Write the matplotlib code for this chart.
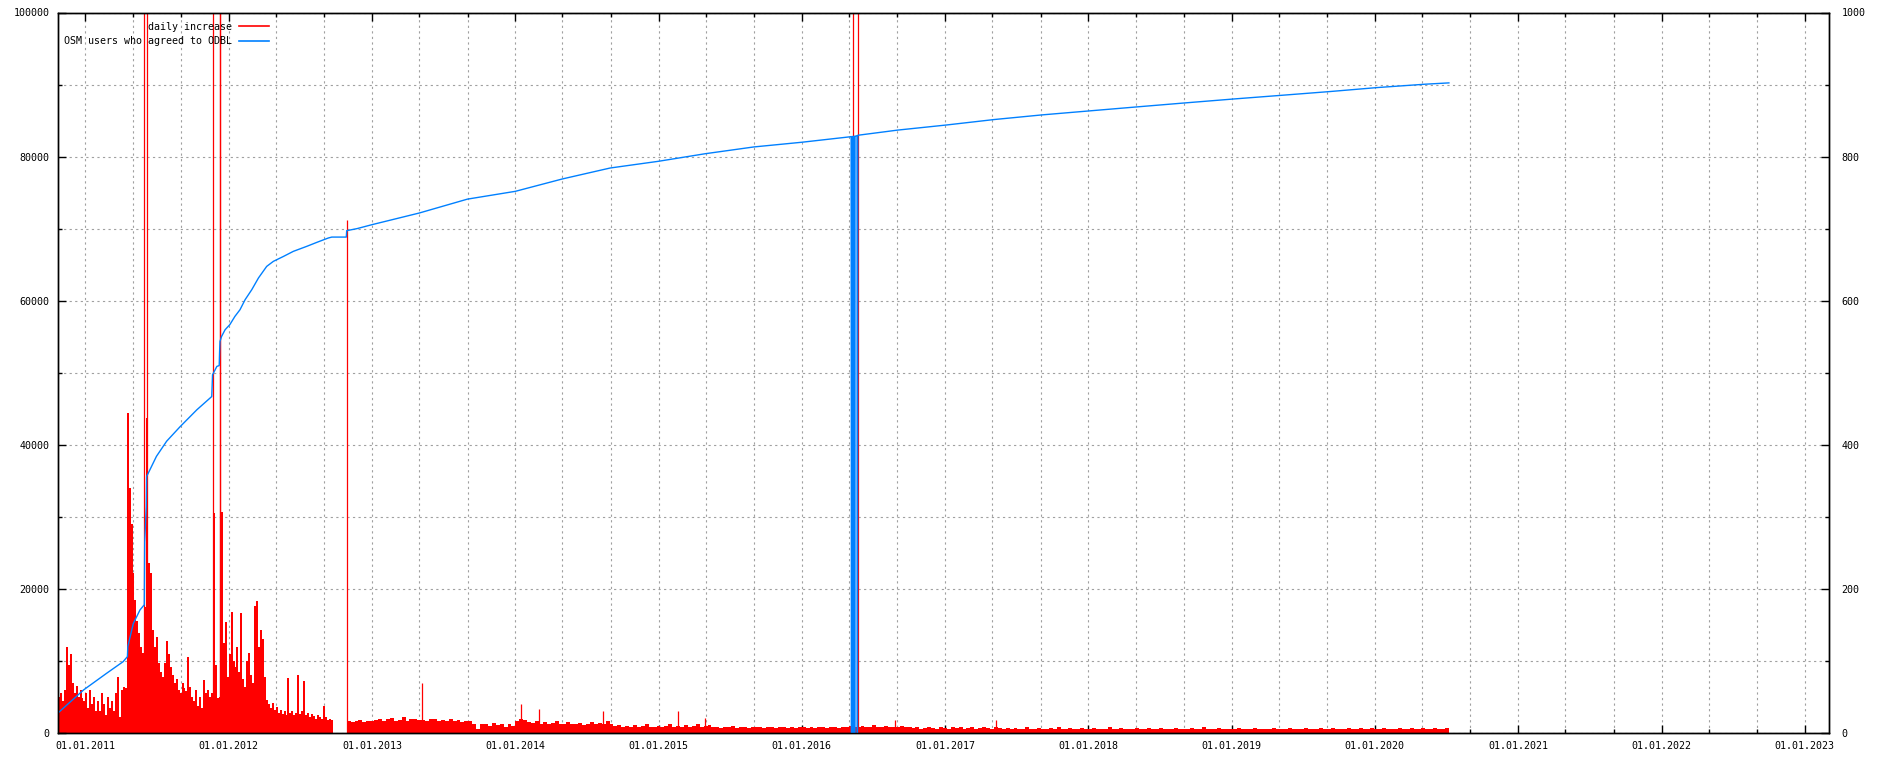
"""
OSM users who agreed to the ODbL: cumulative count and daily increase.
Gnuplot-style chart, red daily increase on the right axis, blue total on the left.
"""

import numpy as np
import pandas as pd
import matplotlib
matplotlib.use("Agg")
import matplotlib.pyplot as plt
import matplotlib.dates as mdates
from matplotlib.ticker import MultipleLocator

FONT = "DejaVu Sans Mono"
FS = 7.2
RED = "#ff0000"
BLUE = "#0080ff"
GRID = "#a0a0a0"

# ---------------------------------------------------------------------------
# Data
# ---------------------------------------------------------------------------

# daily increase, one value per 5 days from 23.10.2010 up to the data gap
EARLY_START = "2010-10-23"
EARLY_STEP = 5
early_increase = [
    50, 55, 45, 60, 120, 95, 110, 70, 55, 65, 50, 60, 48, 45, 55, 35, 60, 40, 50, 30,
    45, 30, 55, 40, 25, 50, 35, 45, 30, 55, 78, 22, 60, 64, 62, 444, 340, 290, 222, 185,
    155, 139, 120, 111, 175, 437, 236, 222, 143, 120, 133, 97, 85, 78, 97, 127, 110, 92, 80, 70,
    75, 60, 55, 70, 62, 58, 106, 64, 50, 45, 60, 38, 50, 35, 73, 55, 60, 50, 55, 305,
    94, 48, 50, 307, 125, 154, 78, 110, 168, 100, 92, 120, 85, 166, 75, 64, 100, 111, 80, 69,
    176, 183, 120, 143, 130, 78, 46, 40, 35, 42, 32, 36, 28, 32, 26, 30, 25, 77, 28, 30,
    25, 28, 80, 27, 30, 72, 25, 28, 22, 26, 24, 20, 25, 22, 20, 37, 22, 18, 20, 18,
]

# daily increase after the gap, one value per 10 days
LATE_START = "2012-10-28"
LATE_STEP = 10
late_increase = [
    16, 15, 17, 18, 15, 16, 17, 18, 20, 17, 19, 21, 16, 18, 22, 17, 19, 20, 18,
    18, 17, 19, 20, 16, 18, 17, 19, 16, 18, 15, 17, 16,
    13, 6, 12,
    12, 10, 14, 11, 13, 9, 12, 10,
    16, 20, 18, 15,
    14, 16, 13, 15, 12, 14, 16, 13, 12, 15, 13,
    12, 14, 11, 13, 15, 12, 14, 13, 16, 12,
    10, 11, 9, 10, 8, 11, 9, 10, 12, 9, 8, 10,
    9, 10, 12, 9, 10, 8, 11, 9, 10, 12, 9, 10, 11,
    9, 8, 7, 9, 8, 10, 7, 8, 9, 7, 8, 9, 8, 7, 9, 8, 7, 8, 9, 7,
    8, 7, 9, 8, 7, 8, 7, 9, 8, 7, 8, 9, 7, 8,
    9, 10, 8, 9,
    10, 8, 9, 11, 9, 8, 10, 9, 8, 9, 10, 8, 9,
    7, 8, 6, 7, 9, 7, 6, 8, 7, 6, 8, 7, 9, 6, 7, 8, 6, 7, 8, 7, 6, 8, 7, 6, 7,
    6, 7, 5, 6, 8, 6, 5, 7, 6, 5, 7, 6, 8, 5, 6, 7, 5, 6, 7, 6,
    5, 7, 6, 5, 6, 8, 6, 5, 7, 6, 5, 6, 7, 5, 6, 7, 6, 5, 7, 6,
    6, 5, 7, 6, 5, 6, 7, 5, 6, 8, 6, 5, 6, 7, 5, 6, 6, 5, 7, 6,
    5, 6, 7, 5, 6, 6, 5, 7, 6, 5, 6, 7, 6, 5, 6, 7, 5, 6, 6, 7,
    5, 6, 7, 6, 5, 6, 7, 6, 5, 7, 6, 6, 7, 5, 6, 7, 6, 5, 6, 7,
    6, 5, 7, 6, 6, 7, 5, 6, 7, 6, 6, 7,
]

# single days with an unusual increase
spike_dates = [
    "2011-05-31", "2011-06-07", "2011-11-21", "2011-12-09", "2011-12-10",
    "2012-10-28", "2013-05-09", "2014-01-16", "2014-03-03", "2014-08-13",
    "2015-02-19", "2015-04-30", "2016-05-11", "2016-05-23", "2016-08-25",
    "2017-05-11",
]
spike_values = [
    8700, 4200, 3000, 2000, 1400,
    712, 70, 40, 34, 31,
    31, 21, 82800, 82900, 18,
    18,
]

# cumulative number of users
blue_dates = [
    "2010-10-23", "2010-12-27", "2011-02-24", "2011-04-07", "2011-04-18", "2011-04-19",
    "2011-05-03", "2011-05-20", "2011-05-31", "2011-06-01", "2011-06-05", "2011-06-06",
    "2011-06-14", "2011-07-01", "2011-07-27", "2011-08-30", "2011-10-12", "2011-11-19",
    "2011-11-21", "2011-12-02", "2011-12-08", "2011-12-09", "2011-12-10", "2011-12-14",
    "2011-12-23", "2012-01-04", "2012-01-17", "2012-01-30", "2012-02-12", "2012-02-29",
    "2012-03-17", "2012-04-07", "2012-04-24", "2012-05-20", "2012-06-14", "2012-07-18",
    "2012-08-13", "2012-09-11", "2012-09-20", "2012-10-27", "2012-10-28", "2012-11-23",
    "2013-01-01", "2013-05-01", "2013-09-01", "2014-01-01", "2014-05-01", "2014-08-31",
    "2015-01-01", "2015-04-30", "2015-09-01", "2016-01-01", "2016-05-02", "2016-05-23",
    "2016-09-02", "2017-01-03", "2017-05-05", "2017-09-05", "2018-01-05", "2018-05-05",
    "2018-09-04", "2019-01-07", "2019-05-09", "2019-09-09", "2020-01-07", "2020-05-09",
    "2020-07-08",
]
blue_values = [
    2780, 5970, 8290, 9900, 10600, 12000,
    15200, 17080, 17800, 26500, 31400, 35600,
    36500, 38400, 40500, 42500, 44860, 46700,
    49720, 50880, 51000, 52960, 54350, 55040,
    55970, 56670, 57820, 58750, 60140, 61530,
    63150, 64760, 65460, 66150, 66850, 67540,
    68100, 68700, 68830, 68830, 69720, 70000,
    70560, 72170, 74100, 75180, 76900, 78420,
    79350, 80400, 81340, 81990, 82740, 82960,
    83680, 84380, 85140, 85790, 86350, 86900,
    87450, 88000, 88510, 89030, 89580, 90050,
    90230,
]

# May 2016: the count briefly dropped to zero on several days
glitch_dates = [
    "2016-05-06", "2016-05-07", "2016-05-08", "2016-05-09", "2016-05-10", "2016-05-11",
    "2016-05-12", "2016-05-13", "2016-05-14", "2016-05-15", "2016-05-16", "2016-05-17",
    "2016-05-21", "2016-05-22",
]
glitch_values = [
    82780, 0, 82790, 0, 82800, 0,
    82810, 0, 82820, 0, 82830, 82840,
    82900, 0,
]

YEARS = list(range(2011, 2024))


def main():
    fig = plt.figure(figsize=(18.9, 7.6), dpi=100)
    ax = fig.add_axes([58 / 1890, 27 / 760, (1829 - 58) / 1890, (733 - 12.5) / 760])
    ax2 = ax.twinx()

    # red: daily increase (right axis, drawn on the base axes so blue stays on top)
    early_x = mdates.date2num(pd.date_range(EARLY_START, periods=len(early_increase),
                                            freq=f"{EARLY_STEP}D"))
    late_x = mdates.date2num(pd.date_range(LATE_START, periods=len(late_increase),
                                           freq=f"{LATE_STEP}D"))
    ax.bar(early_x, early_increase, width=EARLY_STEP, align="edge",
           color=RED, linewidth=0, zorder=2)
    ax.bar(late_x, late_increase, width=LATE_STEP, align="edge",
           color=RED, linewidth=0, zorder=2)
    sx = mdates.date2num(pd.to_datetime(spike_dates))
    ax.vlines(sx, 0, spike_values, colors=RED, linewidth=0.9, zorder=2)

    # blue: cumulative users (left axis)
    blue = pd.Series(blue_values, index=pd.to_datetime(blue_dates))
    glitch = pd.Series(glitch_values, index=pd.to_datetime(glitch_dates))
    blue = pd.concat([blue, glitch]).sort_index()
    ax2.plot(mdates.date2num(blue.index), blue.values, color=BLUE, linewidth=1.0)

    # proxy handles for the gnuplot-like key
    h_red, = ax2.plot([], [], color=RED, linewidth=1.2, label="daily increase")
    h_blue, = ax2.plot([], [], color=BLUE, linewidth=1.2, label="OSM users who agreed to ODBL")

    # axes ranges
    x0 = mdates.date2num(pd.Timestamp("2010-10-23"))
    x1 = mdates.date2num(pd.Timestamp("2023-03-04"))
    ax.set_xlim(x0, x1)
    ax.set_ylim(0, 1000)
    ax2.set_ylim(0, 100000)

    # x ticks: every 1st of January, minor every 4 months
    majors = mdates.date2num(pd.to_datetime([f"{y}-01-01" for y in YEARS]))
    minors = mdates.date2num(pd.to_datetime([f"{y}-{m:02d}-01" for y in [2010] + YEARS
                                             for m in (5, 9)]))
    ax.set_xticks(majors)
    ax.set_xticks(minors, minor=True)
    ax.xaxis.set_major_formatter(mdates.DateFormatter("%d.%m.%Y"))
    ax.set_xlim(x0, x1)
    ax.tick_params(axis="x", which="both", direction="in", top=True, bottom=True,
                   labelsize=FS, pad=6)
    ax.tick_params(axis="x", which="major", length=6, width=1)
    ax.tick_params(axis="x", which="minor", length=3, width=1)

    # right axis (red)
    ax.yaxis.tick_right()
    ax.yaxis.set_major_locator(MultipleLocator(200))
    ax.yaxis.set_minor_locator(MultipleLocator(100))
    ax.tick_params(axis="y", which="both", direction="in", left=False, right=True,
                   labelsize=FS, pad=9)
    ax.tick_params(axis="y", which="major", length=6, width=1)
    ax.tick_params(axis="y", which="minor", length=3, width=1)

    # left axis (blue)
    ax2.yaxis.tick_left()
    ax2.yaxis.set_major_locator(MultipleLocator(20000))
    ax2.yaxis.set_minor_locator(MultipleLocator(10000))
    ax2.tick_params(axis="y", which="both", direction="in", left=True, right=False,
                    labelsize=FS, pad=6)
    ax2.tick_params(axis="y", which="major", length=6, width=1)
    ax2.tick_params(axis="y", which="minor", length=3, width=1)

    for a in (ax, ax2):
        for lab in a.get_xticklabels() + a.get_yticklabels():
            lab.set_fontfamily(FONT)
        for sp in a.spines.values():
            sp.set_linewidth(1.0)
            sp.set_color("black")

    # dashed grid, every year / 4 months and every 10000
    ax.grid(True, which="both", axis="both", color=GRID, linestyle=(0, (2, 3)),
            linewidth=0.8)
    ax.set_axisbelow(True)

    leg = ax2.legend(handles=[h_red, h_blue], loc="upper right",
                     bbox_to_anchor=(269 / 1890, 1 - 21.5 / 760),
                     bbox_transform=fig.transFigure, frameon=False, markerfirst=False,
                     prop={"family": FONT, "size": FS}, handlelength=3.0,
                     handletextpad=0.7, labelspacing=0.45, borderpad=0, borderaxespad=0)
    leg.set_zorder(5)

    fig.savefig("out.png", dpi=100)
    plt.close(fig)


if __name__ == "__main__":
    main()
